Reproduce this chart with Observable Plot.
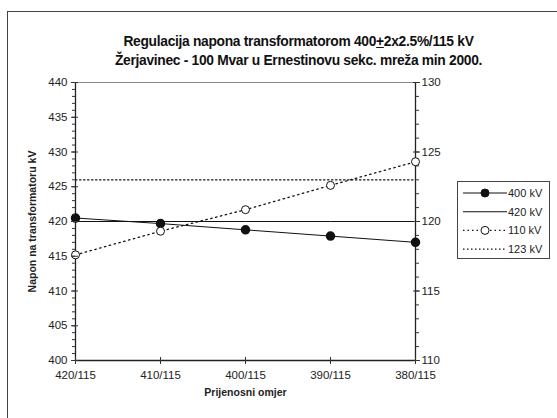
<!DOCTYPE html>
<html><head><meta charset="utf-8">
<script src="https://cdn.jsdelivr.net/npm/d3@7"></script>
<script src="https://cdn.jsdelivr.net/npm/@observablehq/plot@0.6"></script>
<style>
body{margin:0;background:#fff;font-family:"Liberation Sans",Arial,sans-serif;}
#frame{position:absolute;left:7px;top:11px;width:600px;height:500px;border-top:1.5px solid #444;border-left:1.5px solid #444;}
#chart{position:absolute;left:0;top:0;}
.title{position:absolute;left:0;width:597px;text-align:center;font-weight:bold;font-size:13.8px;letter-spacing:-0.3px;color:#111;white-space:nowrap;}
#legend{position:absolute;left:457px;top:181px;}
</style></head>
<body>
<div id="frame"></div>
<div id="chart"></div>
<div class="title" style="top:34px">Regulacija napona transformatorom 400<u>+</u>2x2.5%/115 kV</div>
<div class="title" style="top:53px">Žerjavinec - 100 Mvar u Ernestinovu sekc. mreža min 2000.</div>
<div id="legend"></div>
<script>
const ratios = ["420/115", "410/115", "400/115", "390/115", "380/115"];
const kv400 = [420.5, 419.7, 418.8, 417.9, 417.0];
const kv420 = [420, 420, 420, 420, 420];
const kv110 = [117.6, 119.3, 120.85, 122.6, 124.3];
const kv123 = [123, 123, 123, 123, 123];
const leftTicks = [400, 405, 410, 415, 420, 425, 430, 435, 440];
const leftMinor = d3.range(400, 441, 1);
const rightTicks = [110, 115, 120, 125, 130];
const rightMinor = d3.range(110, 131, 1);
const legendNames = ["400 kV", "420 kV", "110 kV", "123 kV"];

// right axis (110..130) mapped onto left axis domain (400..440)
const toLeft = v => 400 + (v - 110) * 2;
const toRight = v => (v - 400) / 2 + 110;

const rows = (vals, conv = v => v) => ratios.map((r, i) => ({x: r, y: conv(vals[i])}));
const d400 = rows(kv400), d420 = rows(kv420), d110 = rows(kv110, toLeft), d123 = rows(kv123, toLeft);

const ink = "#111";
const chart = Plot.plot({
  width: 557, height: 418,
  marginLeft: 75, marginRight: 142, marginTop: 82, marginBottom: 58,
  style: {fontFamily: "'Liberation Sans', Arial, sans-serif", fontSize: "11.5px", color: "#222", background: "transparent"},
  x: {type: "point", domain: ratios, padding: 0},
  y: {domain: [400, 440]},
  marks: [
    Plot.ruleY([440], {stroke: "#888", strokeWidth: 1}),
    Plot.line(d420, {x: "x", y: "y", stroke: ink, strokeWidth: 1}),
    Plot.line(d123, {x: "x", y: "y", stroke: ink, strokeWidth: 1.2, strokeDasharray: "1.5,2.5"}),
    Plot.line(d110, {x: "x", y: "y", stroke: ink, strokeWidth: 1.3, strokeDasharray: "1.5,3.5"}),
    Plot.line(d400, {x: "x", y: "y", stroke: ink, strokeWidth: 1}),
    Plot.ruleX([ratios[0]], {stroke: "#222", strokeWidth: 1.3}),
    Plot.ruleX([ratios[ratios.length - 1]], {stroke: "#222", strokeWidth: 1.3}),
    Plot.ruleY([400], {stroke: "#222", strokeWidth: 1.3}),
    Plot.dot(d400, {x: "x", y: "y", r: 4, fill: ink, stroke: ink}),
    Plot.dot(d110, {x: "x", y: "y", r: 4, fill: "white", stroke: ink, strokeWidth: 1}),
    // left axis
    Plot.axisY(leftMinor, {anchor: "left", tickSize: 3, tickFormat: () => "", label: null, stroke: "#333"}),
    Plot.axisY(leftTicks, {anchor: "left", tickSize: 7, dx: 3, tickFormat: () => "", label: null, stroke: "#333"}),
    Plot.axisY(leftTicks, {anchor: "left", tickSize: 0, tickPadding: 8, label: null}),
    // right axis
    Plot.axisY(rightMinor.map(toLeft), {anchor: "right", tickSize: 3, tickFormat: () => "", label: null, stroke: "#333"}),
    Plot.axisY(rightTicks.map(toLeft), {anchor: "right", tickSize: 7, dx: -3, tickFormat: () => "", label: null, stroke: "#333"}),
    Plot.axisY(rightTicks.map(toLeft), {anchor: "right", tickSize: 0, tickPadding: 6, tickFormat: d => toRight(d), label: null}),
    // x axis
    Plot.axisX(ratios, {anchor: "bottom", tickSize: 7, dy: -3, tickFormat: () => "", label: null, stroke: "#333"}),
    Plot.axisX(ratios, {anchor: "bottom", tickSize: 0, tickPadding: 10, label: null}),
    Plot.text(["Napon na transformatoru kV"], {frameAnchor: "left", dx: -43, rotate: -90, textAnchor: "middle", fontWeight: "bold", fontSize: 10.5}),
    Plot.text(["Prijenosni omjer"], {frameAnchor: "bottom", dy: 35, fontWeight: "bold", fontSize: 10.5})
  ]
});
document.getElementById("chart").append(chart);

// legend
const lg = d3.select("#legend").append("svg").attr("width", 93).attr("height", 78)
  .style("font-family", "'Liberation Sans', Arial, sans-serif").style("font-size", "11px");
lg.append("rect").attr("x", 0.5).attr("y", 0.5).attr("width", 92).attr("height", 77).attr("fill", "white").attr("stroke", "#444");
const styles = [
  {dash: null, dot: "fill"},
  {dash: null, dot: null},
  {dash: "1.5,3", dot: "open"},
  {dash: "1.5,2.5", dot: null}
];
legendNames.forEach((name, i) => {
  const y = 12 + i * 18.7;
  const g = lg.append("g");
  g.append("line").attr("x1", 6).attr("x2", 50).attr("y1", y).attr("y2", y)
    .attr("stroke", ink).attr("stroke-width", 1.1).attr("stroke-dasharray", styles[i].dash);
  if (styles[i].dot) g.append("circle").attr("cx", 28).attr("cy", y).attr("r", 4)
    .attr("fill", styles[i].dot === "fill" ? ink : "white").attr("stroke", ink);
  g.append("text").attr("x", 51).attr("y", y).attr("dy", "0.35em").attr("fill", "#222").text(name);
});
</script>
</body></html>
